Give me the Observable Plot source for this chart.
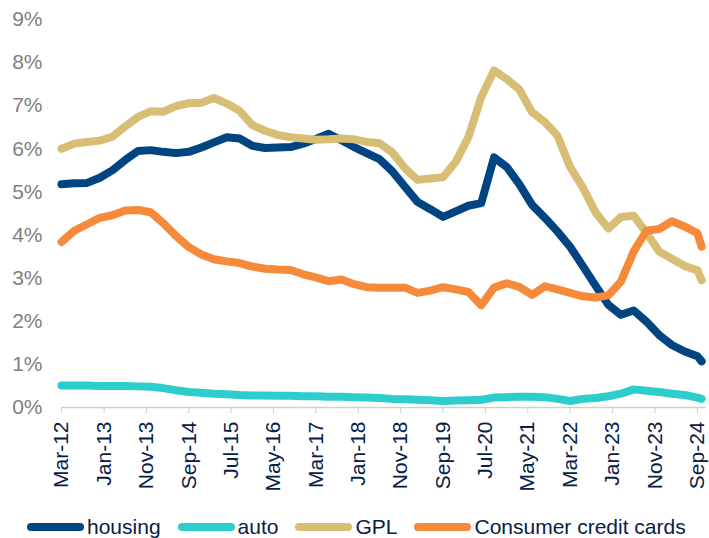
<!DOCTYPE html>
<html><head><meta charset="utf-8">
<script src="https://cdn.jsdelivr.net/npm/d3@7"></script>
<script src="https://cdn.jsdelivr.net/npm/@observablehq/plot@0.6"></script>
<style>
body{margin:0;background:#fff;font-family:"Liberation Sans",Arial,sans-serif;}
#wrap{position:relative;width:709px;height:538px;overflow:hidden;}
#legend{position:absolute;left:27px;top:513px;height:28px;display:flex;align-items:center;font-size:21px;color:#072146;white-space:nowrap;}
.sw{width:57px;height:8px;border-radius:4px;margin-right:3px;}
.item{display:flex;align-items:center;margin-right:17px;line-height:28px;}
</style></head><body><div id="wrap"><div id="chart"></div><div id="legend"></div></div>
<script>
const dates = [
 "2012-03","2012-06","2012-09","2012-12","2013-03","2013-06","2013-09","2013-12",
 "2014-03","2014-06","2014-09","2014-12","2015-03","2015-06","2015-09","2015-12",
 "2016-03","2016-06","2016-09","2016-12","2017-03","2017-06","2017-09","2017-12",
 "2018-03","2018-06","2018-09","2018-12","2019-03","2019-06","2019-09","2019-12",
 "2020-03","2020-06","2020-09","2020-12","2021-03","2021-06","2021-09","2021-12",
 "2022-03","2022-06","2022-09","2022-12","2023-03","2023-06","2023-09","2023-12",
 "2024-03","2024-06","2024-09","2024-10"];
const housing = [5.18,5.20,5.21,5.33,5.50,5.74,5.95,5.97,5.93,5.90,
 5.93,6.03,6.15,6.27,6.24,6.07,6.02,6.03,6.04,6.12,
 6.23,6.35,6.20,6.04,5.90,5.76,5.48,5.12,4.77,4.60,
 4.42,4.55,4.68,4.74,5.80,5.58,5.18,4.70,4.40,4.08,
 3.73,3.28,2.82,2.38,2.15,2.25,1.99,1.68,1.45,1.30,1.19,1.07];
const auto = [0.51,0.51,0.51,0.50,0.50,0.50,0.49,0.48,0.45,0.40,
 0.36,0.34,0.32,0.31,0.29,0.28,0.28,0.27,0.27,0.26,
 0.26,0.25,0.25,0.24,0.23,0.22,0.20,0.19,0.18,0.17,
 0.15,0.16,0.17,0.18,0.23,0.24,0.25,0.25,0.24,0.20,
 0.15,0.20,0.22,0.26,0.32,0.42,0.39,0.36,0.32,0.29,0.23,0.20];
const gpl = [6.00,6.12,6.16,6.19,6.28,6.52,6.74,6.87,6.86,6.99,
 7.06,7.07,7.18,7.05,6.88,6.55,6.42,6.32,6.27,6.24,
 6.21,6.22,6.24,6.22,6.16,6.13,5.92,5.55,5.28,5.31,
 5.34,5.70,6.27,7.20,7.82,7.62,7.38,6.85,6.62,6.30,
 5.58,5.10,4.52,4.15,4.42,4.45,4.05,3.62,3.45,3.28,3.18,2.95];
const cards = [3.84,4.10,4.25,4.40,4.46,4.57,4.58,4.53,4.28,3.98,
 3.72,3.55,3.44,3.39,3.35,3.27,3.22,3.20,3.19,3.09,
 3.02,2.93,2.97,2.86,2.79,2.78,2.78,2.78,2.66,2.71,
 2.79,2.74,2.68,2.37,2.78,2.88,2.80,2.61,2.81,2.74,
 2.66,2.58,2.55,2.60,2.92,3.62,4.10,4.14,4.32,4.20,4.04,3.73];
const seriesNames = ["housing","auto","GPL","Consumer credit cards"];
const seriesColors = ["#004481","#2DCCCD","#D8BE75","#F7893B"];
const tickLabels = ["Mar-12","Jan-13","Nov-13","Sep-14","Jul-15","May-16","Mar-17","Jan-18",
 "Nov-18","Sep-19","Jul-20","May-21","Mar-22","Jan-23","Nov-23","Sep-24"];
const yTicks = [0,1,2,3,4,5,6,7,8,9];

const parseQ = d3.utcParse("%Y-%m");
const parseTick = d3.utcParse("%b-%y");
const seriesValues = [housing, auto, gpl, cards];
const rows = [];
seriesNames.forEach((s, k) => dates.forEach((d, i) => rows.push({series: s, date: parseQ(d), value: seriesValues[k][i]})));
const tickDates = tickLabels.map(parseTick);

const chart = Plot.plot({
  width: 709, height: 512,
  marginLeft: 61, marginRight: 3.5, marginTop: 19, marginBottom: 105,
  style: {fontFamily: "'Liberation Sans', Arial, sans-serif", fontSize: "21px", background: "#fff"},
  x: {type: "utc", domain: [parseQ("2012-03"), parseQ("2024-11")]},
  y: {domain: [0, 9]},
  color: {domain: seriesNames, range: seriesColors},
  marks: [
    Plot.ruleY([0], {stroke: "#d0d0d0", strokeWidth: 1.3}),
    Plot.axisX(tickDates, {tickSize: 6, tickPadding: 8, tickRotate: -90, tickFormat: d3.utcFormat("%b-%y"),
      stroke: "#d0d0d0", fill: "#072146", fontSize: 21, label: null}),
    Plot.axisY(yTicks, {tickSize: 0, tickPadding: 19, tickFormat: d => d + "%", fill: "#808080", fontSize: 21, label: null}),
    Plot.line(rows, {x: "date", y: "value", z: "series", stroke: "series", strokeWidth: 8,
      strokeLinecap: "round", strokeLinejoin: "round"})
  ]
});
document.getElementById("chart").appendChild(chart);

const legend = document.getElementById("legend");
seriesNames.forEach((s, k) => {
  const item = document.createElement("div");
  item.className = "item";
  const sw = document.createElement("div");
  sw.className = "sw";
  sw.style.background = seriesColors[k];
  const t = document.createElement("span");
  t.textContent = s;
  item.appendChild(sw); item.appendChild(t);
  legend.appendChild(item);
});
</script></body></html>
